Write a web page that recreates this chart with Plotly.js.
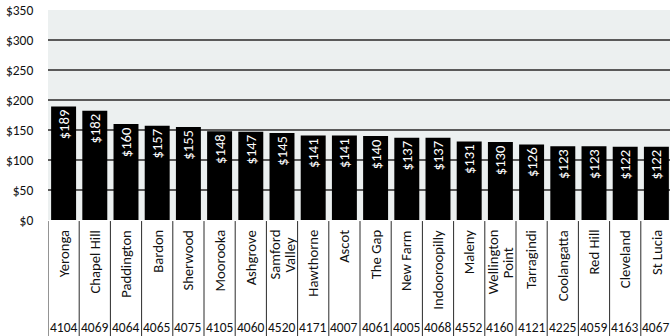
<!DOCTYPE html>
<html>
<head>
<meta charset="utf-8">
<script src="https://cdn.plot.ly/plotly-3.0.1.min.js"></script>
<style>
  html, body { margin: 0; padding: 0; background: #ffffff; overflow: hidden; }
  #chart { width: 672px; height: 336px; }
</style>
</head>
<body>
<div id="chart"></div>
<script>
// Weekly rent by suburb, with postcodes listed under each suburb
const suburbs = ["Yeronga", "Chapel Hill", "Paddington", "Bardon", "Sherwood", "Moorooka",
  "Ashgrove", "Samford<br>Valley", "Hawthorne", "Ascot", "The Gap", "New Farm",
  "Indooroopilly", "Maleny", "Wellington<br>Point", "Tarragindi", "Coolangatta",
  "Red Hill", "Cleveland", "St Lucia"];
const rents = [189, 182, 160, 157, 155, 148, 147, 145, 141, 141, 140, 137, 137, 131, 130,
  126, 123, 123, 122, 122];
const postcodes = ["4104", "4069", "4064", "4065", "4075", "4105", "4060", "4520", "4171",
  "4007", "4061", "4005", "4068", "4552", "4160", "4121", "4225", "4059", "4163", "4067"];
const yTicks = [0, 50, 100, 150, 200, 250, 300, 350];

const FONT = 'Carlito, Lato, "Open Sans", sans-serif';
const FS = 14.67;
const FS_SMALL = 13.5;
const PLOT_H = 210;           // plot area height in px
const LINE_GAP = 15;          // spacing between lines of a two-line name
const idx = suburbs.map((_, i) => i);

const trace = {
  type: 'bar',
  x: idx,
  y: rents,
  marker: { color: '#000000', line: { width: 0 } },
  texttemplate: '$%{y}',
  textposition: 'inside',
  insidetextanchor: 'end',
  textangle: -90,
  constraintext: 'none',
  insidetextfont: { color: '#ffffff', size: FS, family: FONT },
  hoverinfo: 'skip'
};

// table cell borders below the plot
const shapes = [];
for (let i = 0; i <= suburbs.length; i++) {
  shapes.push({
    type: 'line', xref: 'x', yref: 'paper',
    x0: i - 0.5, x1: i - 0.5, y0: -0.005, y1: -0.56,
    line: { color: '#2a2a2a', width: 1 }
  });
}

// rotated names: each line hangs from the top of its cell, longest line sets the centre
const ctx = document.createElement('canvas').getContext('2d');
ctx.font = FS + 'px ' + FONT;
const nameNotes = [];
suburbs.forEach((s, i) => {
  const lines = s.split('<br>');
  const widths = lines.map(l => ctx.measureText(l).width);
  const longest = Math.max(...widths);
  lines.forEach((l, k) => {
    nameNotes.push({
      x: i, xref: 'x', y: -10 / PLOT_H, yref: 'paper',
      text: l, showarrow: false, textangle: -90,
      xanchor: 'center', yanchor: 'middle',
      xshift: (k - (lines.length - 1) / 2) * LINE_GAP,
      yshift: -longest / 2,
      font: { size: FS, color: '#111111', family: FONT }
    });
  });
});

// postcode row along the bottom
const codeNotes = postcodes.map((p, i) => ({
  x: i, xref: 'x', y: -0.512, yref: 'paper',
  text: p, showarrow: false, xanchor: 'center', yanchor: 'middle',
  font: { size: FS_SMALL, color: '#111111', family: FONT }
}));

const layout = {
  width: 672,
  height: 336,
  margin: { l: 48, r: 0, t: 10, b: 116 },
  paper_bgcolor: '#ffffff',
  plot_bgcolor: '#ecf0f0',
  bargap: 0.2,
  showlegend: false,
  font: { family: FONT, size: FS, color: '#111111' },
  xaxis: {
    range: [-0.5, suburbs.length - 0.5],
    showticklabels: false, ticks: '',
    showgrid: false, zeroline: false, showline: false,
    fixedrange: true
  },
  yaxis: {
    range: [0, 350],
    tickmode: 'array',
    tickvals: yTicks,
    ticktext: yTicks.map(v => '$' + v),
    ticks: 'outside', ticklen: 11, tickcolor: 'rgba(0,0,0,0)',
    showgrid: true, gridcolor: '#5a5a5a', gridwidth: 2,
    zeroline: false, showline: false,
    tickfont: { size: FS_SMALL, color: '#111111', family: FONT },
    fixedrange: true
  },
  shapes: shapes,
  annotations: nameNotes.concat(codeNotes)
};

Plotly.newPlot('chart', [trace], layout, { staticPlot: true, displayModeBar: false });
</script>
</body>
</html>
